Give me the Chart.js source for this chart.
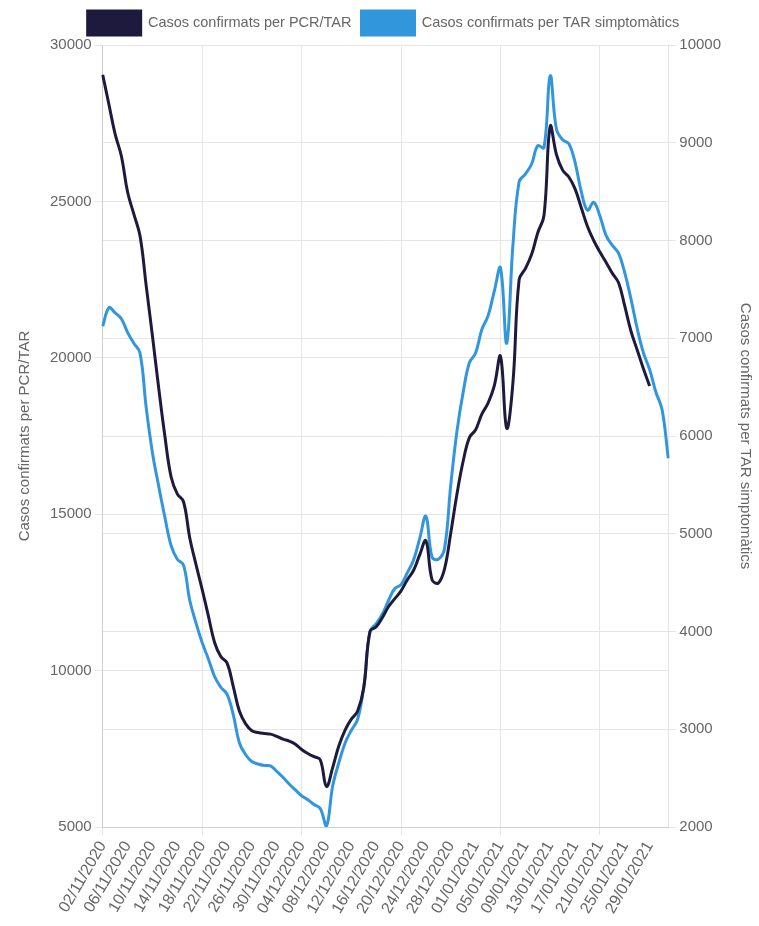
<!DOCTYPE html>
<html>
<head>
<meta charset="utf-8">
<script src="https://cdn.jsdelivr.net/npm/chart.js@4/dist/chart.umd.min.js"></script>
<style>
  html, body { margin: 0; padding: 0; background: #ffffff; }
  #wrap { width: 759px; height: 926px; position: relative; }
</style>
</head>
<body>
<div id="wrap"><canvas id="c"></canvas></div>
<script>
// Categories (days)
const dates = [
  '02/11/2020','03/11/2020','04/11/2020','05/11/2020','06/11/2020','07/11/2020','08/11/2020','09/11/2020','10/11/2020','11/11/2020',
  '12/11/2020','13/11/2020','14/11/2020','15/11/2020','16/11/2020','17/11/2020','18/11/2020','19/11/2020','20/11/2020','21/11/2020',
  '22/11/2020','23/11/2020','24/11/2020','25/11/2020','26/11/2020','27/11/2020','28/11/2020','29/11/2020','30/11/2020',
  '01/12/2020','02/12/2020','03/12/2020','04/12/2020','05/12/2020','06/12/2020','07/12/2020','08/12/2020','09/12/2020','10/12/2020',
  '11/12/2020','12/12/2020','13/12/2020','14/12/2020','15/12/2020','16/12/2020','17/12/2020','18/12/2020','19/12/2020','20/12/2020',
  '21/12/2020','22/12/2020','23/12/2020','24/12/2020','25/12/2020','26/12/2020','27/12/2020','28/12/2020','29/12/2020','30/12/2020','31/12/2020',
  '01/01/2021','02/01/2021','03/01/2021','04/01/2021','05/01/2021','06/01/2021','07/01/2021','08/01/2021','09/01/2021','10/01/2021',
  '11/01/2021','12/01/2021','13/01/2021','14/01/2021','15/01/2021','16/01/2021','17/01/2021','18/01/2021','19/01/2021','20/01/2021',
  '21/01/2021','22/01/2021','23/01/2021','24/01/2021','25/01/2021','26/01/2021','27/01/2021','28/01/2021','29/01/2021','30/01/2021','31/01/2021',
  '01/02/2021'
];

// Series: Casos confirmats per PCR/TAR (left axis)
const pcrTar = [
  29050, 28100, 27150, 26450, 25300, 24600, 23900, 22300, 20700, 19050,
  17500, 16200, 15650, 15400, 14250, 13400, 12600, 11750, 10900, 10450,
  10250, 9500, 8700, 8300, 8080, 8020, 7990, 7970, 7900, 7810,
  7750, 7650, 7480, 7350, 7250, 7150, 6300, 6900, 7600, 8100,
  8450, 8700, 9450, 11250, 11400, 11700, 12050, 12300, 12550, 12900,
  13200, 13700, 14150, 12900, 12800, 13250, 14400, 15650, 16700, 17450,
  17700, 18200, 18550, 19100, 20050, 17750, 19200, 22500, 22850, 23300,
  24000, 24550, 27400, 26500, 26000, 25780, 25400, 24800, 24200, 23750,
  23380, 23050, 22700, 22400, 21650, 20850, 20250, 19650, 19100, null,
  null, null
];

// Series: Casos confirmats per TAR simptomàtics (right axis)
const tarSimpt = [
  7124, 7313, 7260, 7200, 7060, 6950, 6850, 6290, 5830, 5490,
  5170, 4880, 4740, 4680, 4320, 4090, 3887, 3720, 3540, 3430,
  3360, 3150, 2860, 2740, 2670, 2645, 2630, 2625, 2570, 2510,
  2440, 2380, 2320, 2280, 2230, 2190, 2010, 2420, 2660, 2860,
  2990, 3100, 3430, 4000, 4080, 4180, 4320, 4440, 4480, 4600,
  4730, 4950, 5180, 4760, 4740, 4850, 5500, 6050, 6450, 6750,
  6850, 7090, 7230, 7480, 7720, 6950, 7950, 8600, 8680, 8780,
  8970, 8950, 9685, 9140, 9030, 8990, 8800, 8500, 8310, 8390,
  8250, 8050, 7950, 7870, 7670, 7400, 7100, 6850, 6680, 6450,
  6270, 5772
];

// Axis ticks
const leftTicks = [5000, 10000, 15000, 20000, 25000, 30000];
const rightTicks = [2000, 3000, 4000, 5000, 6000, 7000, 8000, 9000, 10000];
const labelStep = 4;

const seriesNames = ['Casos confirmats per PCR/TAR', 'Casos confirmats per TAR simptomàtics'];
const colDark = '#1d1a3e';
const colLight = '#3196db';
const gridCol = '#e6e6e6';
const textCol = '#666666';
const fam = "'Liberation Sans', Arial, sans-serif";

Chart.defaults.font.family = fam;
Chart.defaults.color = textCol;

new Chart(document.getElementById('c'), {
  type: 'line',
  data: {
    labels: dates,
    datasets: [
      {
        label: seriesNames[0], data: pcrTar, yAxisID: 'y',
        borderColor: colDark, backgroundColor: colDark,
        borderWidth: 3, pointRadius: 0, pointHoverRadius: 0, tension: 0.4, fill: false
      },
      {
        label: seriesNames[1], data: tarSimpt, yAxisID: 'y1',
        borderColor: colLight, backgroundColor: colLight,
        borderWidth: 3, pointRadius: 0, pointHoverRadius: 0, tension: 0.4, fill: false
      }
    ]
  },
  options: {
    responsive: true,
    maintainAspectRatio: false,
    animation: false,
    layout: { padding: { left: 8, right: 0, top: 1, bottom: 6 } },
    plugins: {
      legend: {
        position: 'top',
        labels: { boxWidth: 53, boxHeight: 24, font: { size: 14.5 }, color: textCol, padding: 10 }
      },
      tooltip: { enabled: false }
    },
    scales: {
      x: {
        grid: {
          color: (ctx) => (ctx.index % labelStep === 0 ? gridCol : 'rgba(0,0,0,0)'),
          tickLength: 8
        },
        ticks: {
          autoSkip: false,
          minRotation: 60, maxRotation: 60,
          font: { size: 16 },
          callback: function (v, i) { return i % labelStep === 0 ? dates[i] : null; }
        }
      },
      y: {
        position: 'left',
        min: leftTicks[0], max: leftTicks[leftTicks.length - 1],
        afterBuildTicks: (s) => { s.ticks = leftTicks.map(v => ({ value: v })); },
        grid: { color: gridCol, tickLength: 8 },
        ticks: { font: { size: 15 }, padding: 3, callback: (v) => String(v) },
        title: { display: true, text: seriesNames[0], font: { size: 15 }, color: textCol, padding: { top: 8, bottom: 13 } }
      },
      y1: {
        position: 'right',
        min: rightTicks[0], max: rightTicks[rightTicks.length - 1],
        afterBuildTicks: (s) => { s.ticks = rightTicks.map(v => ({ value: v })); },
        grid: { color: gridCol, tickLength: 8 },
        ticks: { font: { size: 15 }, padding: 3, callback: (v) => String(v) },
        title: { display: true, text: seriesNames[1], font: { size: 15 }, color: textCol, padding: { top: 5, bottom: 12 } }
      }
    }
  }
});
</script>
</body>
</html>
